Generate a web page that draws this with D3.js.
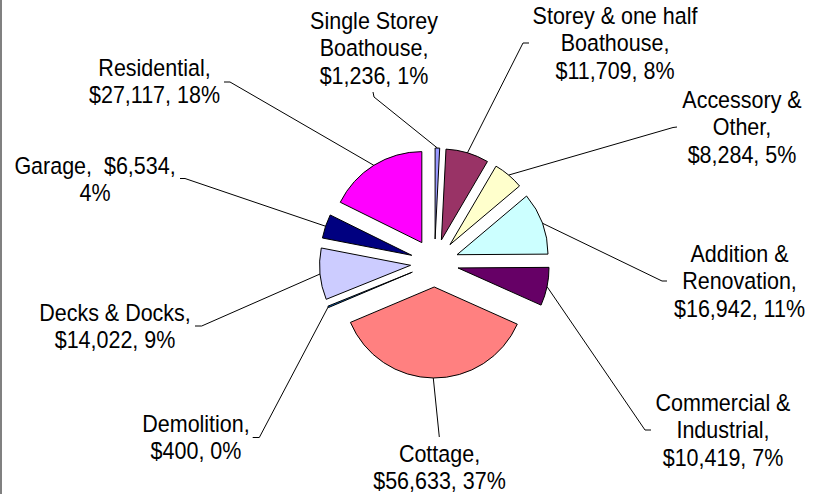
<!DOCTYPE html>
<html>
<head>
<meta charset="utf-8">
<script src="https://cdn.jsdelivr.net/npm/d3@7"></script>
<style>
  body { margin: 0; background: #fff; }
  svg { display: block; }
</style>
</head>
<body>
<div id="vis"></div>
<script>
// data, in pie order (clockwise from 12 o'clock)
const names = ["Single Storey\nBoathouse", "Storey & one half\nBoathouse", "Accessory &\nOther",
  "Addition &\nRenovation", "Commercial &\nIndustrial", "Cottage", "Demolition",
  "Decks & Docks", "Garage", "Residential"];
const values = [1236, 11709, 8284, 16942, 10419, 56633, 400, 14022, 6534, 27117];
const colors = ["#9999FF", "#993366", "#FFFFCC", "#CCFFFF", "#660066", "#FF8080", "#0066CC",
  "#CCCCFF", "#000080", "#FF00FF"];
// how each label is broken into lines
const templates = ["{n},\n{v}, {p}", "{n},\n{v}, {p}", "{n},\n{v}, {p}", "{n},\n{v}, {p}",
  "{n},\n{v}, {p}", "{n},\n{v}, {p}", "{n},\n{v}, {p}", "{n},\n{v}, {p}",
  "{n},  {v},\n{p}", "{n},\n{v}, {p}"];

// label placement (dragged by hand in the original): centre x, first baseline,
// leader attach point and bend point
const labelPos = [[374, 29], [615, 24], [742, 108], [739.5, 262], [723, 411],
  [439.5, 461.5], [196, 432], [115, 321], [95, 173.5], [154.5, 76]];
const leaderEnd = [[373, 92], [529, 43], [677, 127], [667, 281], [651, 430],
  [439.3, 437], [252.7, 437.5], [195, 326], [180, 178.5], [224, 82]];
const leaderBend = [[374, 97], [523, 43], [673, 127.5], [662, 281], [645, 430],
  [439.3, 437], [259.3, 437.5], [201.7, 326], [185, 178.5], [230, 82]];

const width = 822, height = 494;
const cx = 434.5, cy = 263;
const radius = 91, explode = 24;
const lineGap = 27.5;

const svg = d3.create("svg")
    .attr("width", width)
    .attr("height", height);

// left frame edge
svg.append("line")
    .attr("x1", 1).attr("x2", 1)
    .attr("y1", 0).attr("y2", height)
    .attr("stroke", "#808080")
    .attr("stroke-width", 2);

const total = d3.sum(values);
const data = values.map((v, i) => ({name: names[i], value: v, i: i}));

const pie = d3.pie()
    .value(d => d.value)
    .sort(null)
    .startAngle(0)
    .endAngle(2 * Math.PI);

const arc = d3.arc()
    .innerRadius(0)
    .outerRadius(radius);

const arcs = pie(data);
const mid = a => (a.startAngle + a.endAngle) / 2;

const g = svg.append("g")
    .attr("transform", `translate(${cx},${cy})`);

// leader lines
const line = d3.line();
svg.append("g")
    .selectAll("path")
    .data(arcs)
    .join("path")
    .attr("fill", "none")
    .attr("stroke", "#000")
    .attr("stroke-width", 1)
    .attr("d", a => {
        const m = mid(a);
        const p0 = [cx + Math.sin(m) * (radius + explode), cy - Math.cos(m) * (radius + explode)];
        return line([p0, leaderBend[a.index], leaderEnd[a.index]]);
    });

// slices, each pushed out along its bisector
g.selectAll("path")
    .data(arcs)
    .join("path")
    .attr("transform", a => {
        const m = mid(a);
        return `translate(${Math.sin(m) * explode},${-Math.cos(m) * explode})`;
    })
    .attr("d", arc)
    .attr("fill", a => colors[a.index])
    .attr("stroke", "#000")
    .attr("stroke-width", 1)
    .attr("stroke-linejoin", "round");

// labels
const money = d3.format("$,");
const labelText = (d, i) => templates[i]
    .replace("{n}", d.name)
    .replace("{v}", money(d.value))
    .replace("{p}", Math.round(d.value / total * 100) + "%")
    .split("\n");

const labels = svg.append("g")
    .attr("font-family", "'Liberation Sans', Arial, Helvetica, sans-serif")
    .attr("font-size", 21.5)
    .attr("fill", "#000")
    .attr("text-anchor", "middle")
    .selectAll("g")
    .data(data)
    .join("g")
    .attr("transform", (d, i) => `translate(${labelPos[i][0]},${labelPos[i][1]}) scale(1,1.08)`);

labels.selectAll("text")
    .data((d, i) => labelText(d, i))
    .join("text")
    .attr("y", (t, j) => j * lineGap / 1.08)
    .style("white-space", "pre")
    .text(t => t);

document.getElementById("vis").appendChild(svg.node());
</script>
</body>
</html>
